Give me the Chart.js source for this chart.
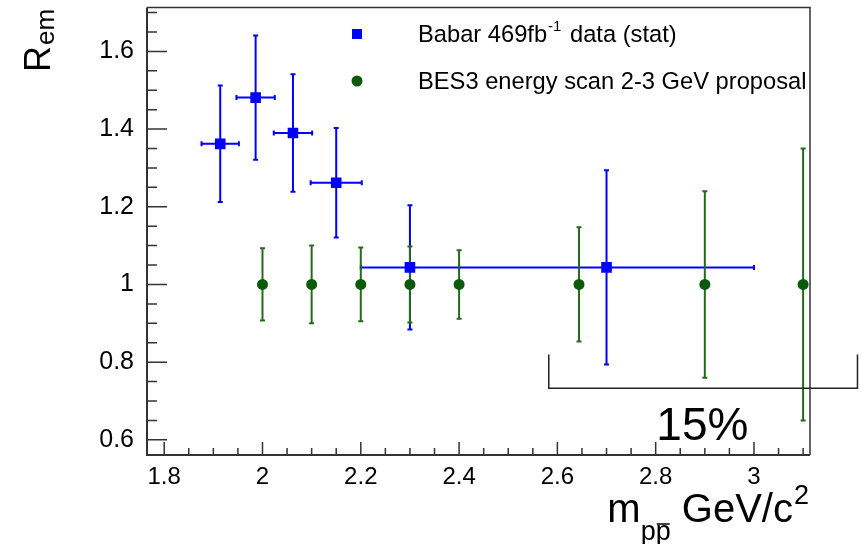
<!DOCTYPE html>
<html>
<head>
<meta charset="utf-8">
<script src="https://cdn.jsdelivr.net/npm/chart.js@4.4.1/dist/chart.umd.min.js"></script>
<style>
    html, body { margin: 0; padding: 0; background: #fff; }
    #wrap { width: 861px; height: 544px; }
</style>
</head>
<body>
<div id="wrap"><canvas id="remChart" width="861" height="544"></canvas></div>
<script>
// Babar points (stat errors)
const babarX = [1.914, 1.986, 2.062, 2.15, 2.3, 2.7];
const babarY = [1.362, 1.481, 1.39, 1.262, 1.044, 1.044];
const babarXErr = [0.038, 0.039, 0.039, 0.052, 0.1, 0.3];
const babarYErr = [0.15, 0.16, 0.151, 0.141, 0.16, 0.25];

// BES3 proposal points
const besX = [2.0, 2.1, 2.2, 2.3, 2.4, 2.644, 2.9, 3.1];
const besY = [1, 1, 1, 1, 1, 1, 1, 1];
const besYErr = [0.093, 0.1, 0.095, 0.098, 0.088, 0.147, 0.24, 0.35];

// axes
const xTicks = [1.8, 2, 2.2, 2.4, 2.6, 2.8, 3];
const yTicks = [0.6, 0.8, 1, 1.2, 1.4, 1.6];
const xRange = [1.765, 3.114];
const yRange = [0.561, 1.713];

const legendLabels = ['Babar 469fb', 'BES3 energy scan 2-3 GeV proposal'];

const FONT = '"Liberation Sans", Arial, Helvetica, sans-serif';
const BLUE = '#0000ff';
const GREEN = '#0b5a0b';
const GREEN_BAR = '#266a1c';

function toPoints(xs, ys) {
    return xs.map((x, i) => ({ x: x, y: ys[i] }));
}

// error bars, frame, ticks, legend and titles
const rootStyle = {
    id: 'rootStyle',
    beforeDatasetsDraw(chart) {
        const ctx = chart.ctx;
        const xs = chart.scales.x;
        const ys = chart.scales.y;
        ctx.save();
        ctx.lineWidth = 2;
        // Babar: x and y errors with small caps
        ctx.strokeStyle = BLUE;
        babarX.forEach((x, i) => {
            const px = xs.getPixelForValue(x);
            const py = ys.getPixelForValue(babarY[i]);
            const x0 = xs.getPixelForValue(x - babarXErr[i]);
            const x1 = xs.getPixelForValue(x + babarXErr[i]);
            const y0 = ys.getPixelForValue(babarY[i] - babarYErr[i]);
            const y1 = ys.getPixelForValue(babarY[i] + babarYErr[i]);
            ctx.beginPath();
            ctx.moveTo(x0, py); ctx.lineTo(x1, py);
            ctx.moveTo(px, y0); ctx.lineTo(px, y1);
            ctx.moveTo(x0, py - 2.5); ctx.lineTo(x0, py + 2.5);
            ctx.moveTo(x1, py - 2.5); ctx.lineTo(x1, py + 2.5);
            ctx.moveTo(px - 2.5, y0); ctx.lineTo(px + 2.5, y0);
            ctx.moveTo(px - 2.5, y1); ctx.lineTo(px + 2.5, y1);
            ctx.stroke();
        });
        // BES3: y errors only
        ctx.strokeStyle = GREEN_BAR;
        besX.forEach((x, i) => {
            const px = xs.getPixelForValue(x);
            const y0 = ys.getPixelForValue(besY[i] - besYErr[i]);
            const y1 = ys.getPixelForValue(besY[i] + besYErr[i]);
            ctx.beginPath();
            ctx.moveTo(px, y0); ctx.lineTo(px, y1);
            ctx.moveTo(px - 2.5, y0); ctx.lineTo(px + 2.5, y0);
            ctx.moveTo(px - 2.5, y1); ctx.lineTo(px + 2.5, y1);
            ctx.stroke();
        });
        ctx.restore();
    },
    afterDraw(chart) {
        const ctx = chart.ctx;
        const a = chart.chartArea;
        const xs = chart.scales.x;
        const ys = chart.scales.y;
        ctx.save();

        // frame
        ctx.strokeStyle = '#333';
        ctx.lineWidth = 1.5;
        ctx.beginPath();
        ctx.moveTo(a.left, a.top); ctx.lineTo(a.right, a.top); ctx.lineTo(a.right, a.bottom);
        ctx.stroke();
        ctx.lineWidth = 2;
        ctx.beginPath();
        ctx.moveTo(a.left, a.top); ctx.lineTo(a.left, a.bottom); ctx.lineTo(a.right, a.bottom);
        ctx.stroke();

        // ticks, pointing inwards
        ctx.lineWidth = 1.5;
        ctx.beginPath();
        for (let k = 0; ; k++) {
            const v = Math.round((1.8 + k * 0.05) * 100) / 100;
            if (v > xRange[1]) break;
            const px = xs.getPixelForValue(v);
            const major = xTicks.some(t => Math.abs(t - v) < 1e-6);
            ctx.moveTo(px, a.bottom);
            ctx.lineTo(px, a.bottom - (major ? 13 : 7));
        }
        for (let k = 0; ; k++) {
            const v = Math.round((0.6 + k * 0.05) * 100) / 100;
            if (v > yRange[1]) break;
            const py = ys.getPixelForValue(v);
            const major = yTicks.some(t => Math.abs(t - v) < 1e-6);
            ctx.moveTo(a.left, py);
            ctx.lineTo(a.left + (major ? 20 : 10), py);
        }
        ctx.stroke();

        // legend
        const lx = 357;
        ctx.fillStyle = BLUE;
        ctx.fillRect(lx - 5, 34 - 5, 10, 10);
        ctx.fillStyle = GREEN;
        ctx.beginPath();
        ctx.arc(lx, 81, 5.5, 0, Math.PI * 2);
        ctx.fill();

        ctx.fillStyle = '#000';
        ctx.textBaseline = 'alphabetic';
        ctx.textAlign = 'left';
        const lf = '23.7px ' + FONT;
        ctx.font = lf;
        let tx = 418;
        ctx.fillText(legendLabels[0], tx, 42);
        tx += ctx.measureText(legendLabels[0]).width + 1;
        ctx.font = '15px ' + FONT;
        ctx.fillText('-1', tx, 31);
        tx += ctx.measureText('-1').width + 2;
        ctx.font = lf;
        ctx.fillText(' data (stat)', tx, 42);
        ctx.fillText(legendLabels[1], 418, 89);

        // x title: m_{p pbar} GeV/c^2
        const big = '40px ' + FONT;
        const small = '27px ' + FONT;
        ctx.font = big;
        const wm = ctx.measureText('m').width;
        const wg = ctx.measureText(' GeV/c').width;
        ctx.font = small;
        const wp = ctx.measureText('p').width;
        const w2 = ctx.measureText('2').width;
        let sx = 809 - (wm + 2 * wp + wg + w2 + 1);
        const base = 522;
        ctx.font = big;
        ctx.fillText('m', sx, base);
        sx += wm;
        ctx.font = small;
        ctx.fillText('p', sx, base + 18);
        ctx.fillText('p', sx + wp, base + 18);
        ctx.lineWidth = 1.5;
        ctx.strokeStyle = '#000';
        ctx.beginPath();
        ctx.moveTo(sx + wp + 1, base + 2);
        ctx.lineTo(sx + 2 * wp - 1, base + 2);
        ctx.stroke();
        sx += 2 * wp;
        ctx.font = big;
        ctx.fillText(' GeV/c', sx, base);
        sx += wg + 1;
        ctx.font = small;
        ctx.fillText('2', sx, base - 18);

        // y title: R_em
        ctx.save();
        ctx.translate(50, 72);
        ctx.rotate(-Math.PI / 2);
        ctx.font = '36px ' + FONT;
        ctx.fillText('R', 0, 0);
        const wr = ctx.measureText('R').width;
        ctx.font = '26px ' + FONT;
        ctx.fillText('em', wr + 1, 4);
        ctx.restore();

        // 15% bracket
        const bx0 = xs.getPixelForValue(2.5825);
        const bx1 = xs.getPixelForValue(3.2106);
        const byTop = ys.getPixelForValue(0.82);
        const byBot = ys.getPixelForValue(0.733);
        ctx.strokeStyle = '#222';
        ctx.lineWidth = 1.5;
        ctx.beginPath();
        ctx.moveTo(bx0, byTop); ctx.lineTo(bx0, byBot); ctx.lineTo(bx1, byBot); ctx.lineTo(bx1, byTop);
        ctx.stroke();
        ctx.font = '46px ' + FONT;
        ctx.textAlign = 'center';
        ctx.fillText('15%', xs.getPixelForValue(2.895), ys.getPixelForValue(0.6));

        ctx.restore();
    }
};

document.addEventListener('DOMContentLoaded', function() {
    const ctx = document.getElementById('remChart').getContext('2d');

    new Chart(ctx, {
        type: 'scatter',
        data: {
            datasets: [{
                label: 'BES3 energy scan 2-3 GeV proposal',
                data: toPoints(besX, besY),
                pointStyle: 'circle',
                pointRadius: 5.5,
                pointHoverRadius: 5.5,
                backgroundColor: GREEN,
                borderColor: GREEN,
                borderWidth: 0
            }, {
                label: 'Babar 469fb-1 data (stat)',
                data: toPoints(babarX, babarY),
                pointStyle: 'rect',
                pointRadius: 7.5,
                pointHoverRadius: 7.5,
                backgroundColor: BLUE,
                borderColor: BLUE,
                borderWidth: 0
            }]
        },
        options: {
            responsive: false,
            animation: false,
            devicePixelRatio: 1,
            layout: {
                padding: { top: 7, right: 51, left: 0, bottom: 0 }
            },
            plugins: {
                legend: { display: false },
                tooltip: { enabled: false }
            },
            scales: {
                x: {
                    type: 'linear',
                    min: xRange[0],
                    max: xRange[1],
                    grid: { display: false },
                    border: { display: false },
                    afterBuildTicks: scale => { scale.ticks = xTicks.map(v => ({ value: v })); },
                    afterFit: scale => {
                        scale.height = 89;
                        scale.paddingLeft = 0;
                        scale.paddingRight = 0;
                    },
                    ticks: {
                        padding: 0,
                        color: '#000',
                        font: { family: FONT, size: 24 },
                        maxRotation: 0,
                        callback: v => String(v)
                    }
                },
                y: {
                    type: 'linear',
                    min: yRange[0],
                    max: yRange[1],
                    grid: { display: false },
                    border: { display: false },
                    afterBuildTicks: scale => { scale.ticks = yTicks.map(v => ({ value: v })); },
                    afterFit: scale => {
                        scale.width = 147;
                        scale.paddingTop = 0;
                        scale.paddingBottom = 0;
                    },
                    ticks: {
                        padding: 5,
                        color: '#000',
                        font: { family: FONT, size: 25 },
                        callback: v => String(v)
                    }
                }
            }
        },
        plugins: [rootStyle]
    });
});
</script>
</body>
</html>
